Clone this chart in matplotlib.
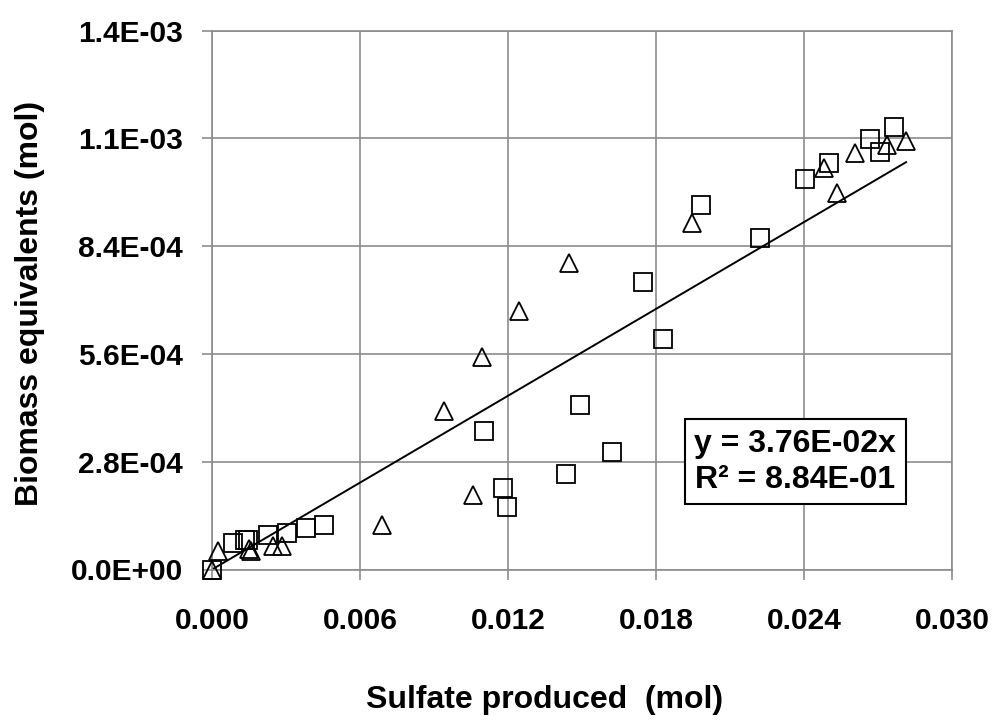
import matplotlib
matplotlib.use("Agg")
import matplotlib.pyplot as plt
from matplotlib.ticker import FuncFormatter

plt.rcParams["font.family"] = ["Liberation Sans", "DejaVu Sans"]
plt.rcParams["font.weight"] = "bold"

# squares series (sulfate mol, biomass mol)
sq_x = [0.0, 0.00084, 0.00134, 0.00146, 0.00225, 0.00305, 0.0038, 0.00455,
        0.01104, 0.01178, 0.01195, 0.01435, 0.01493, 0.01621, 0.01747, 0.01830,
        0.01983, 0.02223, 0.02405, 0.02503, 0.02668, 0.02707, 0.02763]
sq_y = [0.0, 6.8e-05, 7.6e-05, 7.7e-05, 8.9e-05, 9.6e-05, 1.07e-04, 1.16e-04,
        3.60e-04, 2.11e-04, 1.62e-04, 2.49e-04, 4.27e-04, 3.06e-04, 7.47e-04, 6.0e-04,
        9.48e-04, 8.61e-04, 1.0135e-03, 1.056e-03, 1.117e-03, 1.085e-03, 1.150e-03]

# triangles series
tr_x = [0.0, 0.00026, 0.00150, 0.00158, 0.00249, 0.00285, 0.00688, 0.00942,
        0.01057, 0.01093, 0.01245, 0.01449, 0.01946, 0.02481, 0.02535, 0.02608,
        0.02738, 0.02814]
tr_y = [0.0, 4.9e-05, 5.3e-05, 4.8e-05, 6.2e-05, 6.2e-05, 1.15e-04, 4.12e-04,
        1.94e-04, 5.53e-04, 6.71e-04, 7.96e-04, 9.00e-04, 1.042e-03, 9.79e-04, 1.083e-03,
        1.103e-03, 1.112e-03]

slope = 3.76e-02
r2 = 8.84e-01

xticks = [0.0, 0.006, 0.012, 0.018, 0.024, 0.030]
yticks = [0.0, 2.8e-04, 5.6e-04, 8.4e-04, 1.12e-03, 1.4e-03]

fig = plt.figure(figsize=(9.97, 7.22), dpi=100)
ax = fig.add_axes([212 / 997, 1 - 569.5 / 722, 740 / 997, 539 / 722])

gc = "#8c8c8c"
ax.set_xlim(0, 0.030)
ax.set_ylim(0, 1.4e-03)
ax.set_xticks(xticks)
ax.set_yticks(yticks)
ax.grid(True, color=gc, linewidth=1.2)
ax.set_axisbelow(True)
for s in ax.spines.values():
    s.set_color(gc)
    s.set_linewidth(1.2)

ax.xaxis.set_major_formatter(FuncFormatter(lambda v, p: "%.3f" % v))
ax.yaxis.set_major_formatter(FuncFormatter(lambda v, p: "%.1E" % v))
ax.tick_params(axis="both", direction="out", length=7, width=1.2, color=gc,
               labelsize=21.5, pad=14)
ax.tick_params(axis="x", pad=20)

xs = [0.0, max(tr_x + sq_x)]
ax.plot(xs, [slope * v for v in xs], color="black", linewidth=1.4, zorder=2)

ax.plot(sq_x, sq_y, linestyle="none", marker="s", markersize=12.5,
        markerfacecolor="none", markeredgecolor="black", markeredgewidth=1.3,
        clip_on=False, zorder=3)
ax.plot(tr_x, tr_y, linestyle="none", marker="^", markersize=12.5,
        markerfacecolor="none", markeredgecolor="black", markeredgewidth=1.3,
        clip_on=False, zorder=3)

ax.text(0.788, 0.20, "y = 3.76E-02x\nR\u00b2 = 8.84E-01", transform=ax.transAxes,
        fontsize=23, fontweight="bold", ha="center", va="center", linespacing=1.25,
        bbox=dict(boxstyle="square,pad=0.3", facecolor="white", edgecolor="black",
                  linewidth=1.5), zorder=5)

fig.text(545 / 997, 1 - 700 / 722, "Sulfate produced  (mol)", fontsize=23,
         fontweight="bold", ha="center", va="center")
fig.text(30 / 997, 1 - 303 / 722, "Biomass equivalents (mol)", fontsize=23,
         fontweight="bold", ha="center", va="center", rotation=90)

fig.savefig("out.png", dpi=100)
